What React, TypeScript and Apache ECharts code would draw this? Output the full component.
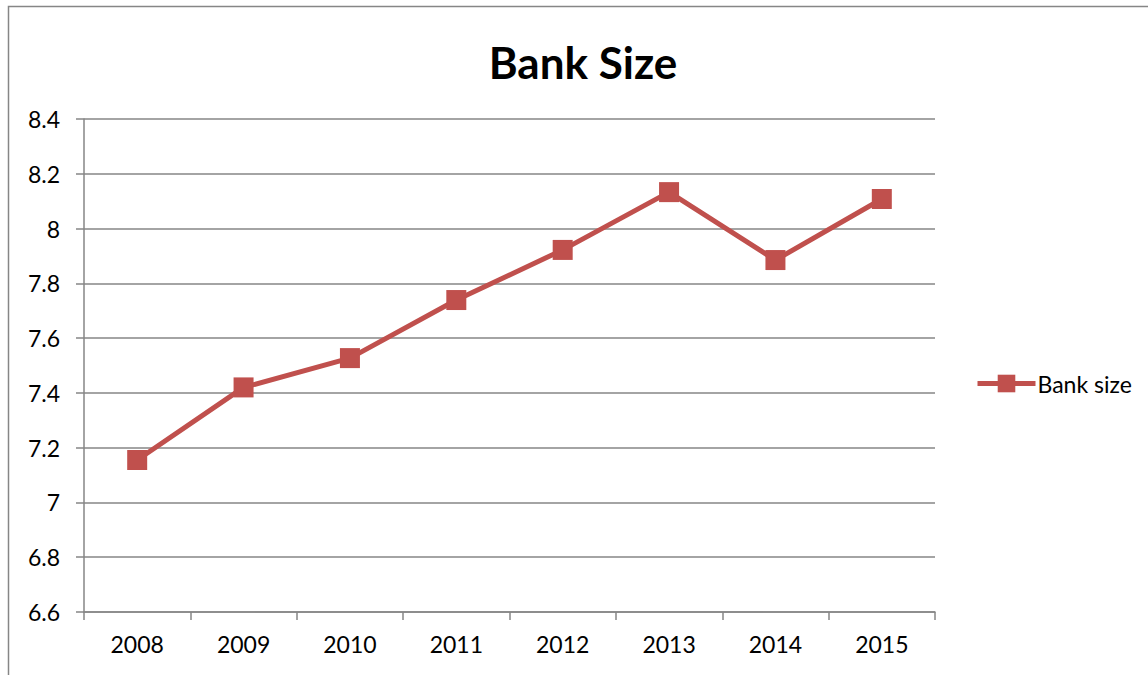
import React, { useEffect, useRef } from "react";
import * as echarts from "echarts";

const years = ["2008", "2009", "2010", "2011", "2012", "2013", "2014", "2015"];
const bankSize = [7.155, 7.42, 7.527, 7.739, 7.922, 8.133, 7.885, 8.108];
const seriesName = "Bank size";
const chartTitle = "Bank Size";

export default function App() {
  const ref = useRef<HTMLDivElement>(null);
  useEffect(() => {
    const chart = echarts.init(ref.current!, null, { renderer: "svg" });
    const font = "Lato, 'Open Sans', sans-serif";
    chart.setOption({
      animation: false,
      backgroundColor: "#ffffff",
      title: {
        text: chartTitle,
        left: 578,
        top: 35,
        textAlign: "center",
        textStyle: { fontFamily: font, fontWeight: "bold", fontSize: 44, color: "#000" },
      },
      graphic: [
        {
          type: "polyline",
          shape: { points: [[8.5, 680], [8.5, 6.5], [1160, 6.5]] },
          style: { stroke: "#868686", lineWidth: 1.5, fill: "none" },
          silent: true,
        },
      ],
      legend: {
        data: [seriesName],
        left: 970,
        top: 367,
        itemWidth: 58,
        itemHeight: 22,
        itemGap: 4,
        lineStyle: { width: 5 },
        textStyle: { fontFamily: font, fontSize: 23, color: "#000", padding: [0, 0, 0, -3] },
      },
      grid: { left: 84, right: 213, top: 119, bottom: 63, containLabel: false },
      xAxis: {
        type: "category",
        data: years,
        boundaryGap: true,
        axisLine: { lineStyle: { color: "#868686", width: 1.5 } },
        axisTick: { show: true, length: 8, alignWithLabel: false, lineStyle: { color: "#868686", width: 1.5 } },
        axisLabel: { fontFamily: font, fontSize: 23, color: "#000", margin: 20 },
      },
      yAxis: {
        type: "value",
        min: 6.6,
        max: 8.4,
        interval: 0.2,
        axisLine: { show: true, lineStyle: { color: "#868686", width: 1.5 } },
        axisTick: { show: true, length: 8, inside: false, lineStyle: { color: "#868686", width: 1.5 } },
        splitLine: { show: true, lineStyle: { color: "#868686", width: 1.5 } },
        axisLabel: {
          fontFamily: font,
          fontSize: 23,
          color: "#000",
          margin: 24,
          formatter: (v: number) => String(Math.round(v * 10) / 10),
        },
      },
      series: [
        {
          name: seriesName,
          type: "line",
          data: bankSize,
          symbol: "rect",
          symbolSize: 20,
          lineStyle: { color: "#C0504D", width: 5 },
          itemStyle: { color: "#C0504D" },
        },
      ],
    });
    return () => chart.dispose();
  }, []);
  return (
    <div
      ref={ref}
      style={{ position: "absolute", left: 0, top: 0, width: 1148, height: 675 }}
    />
  );
}
